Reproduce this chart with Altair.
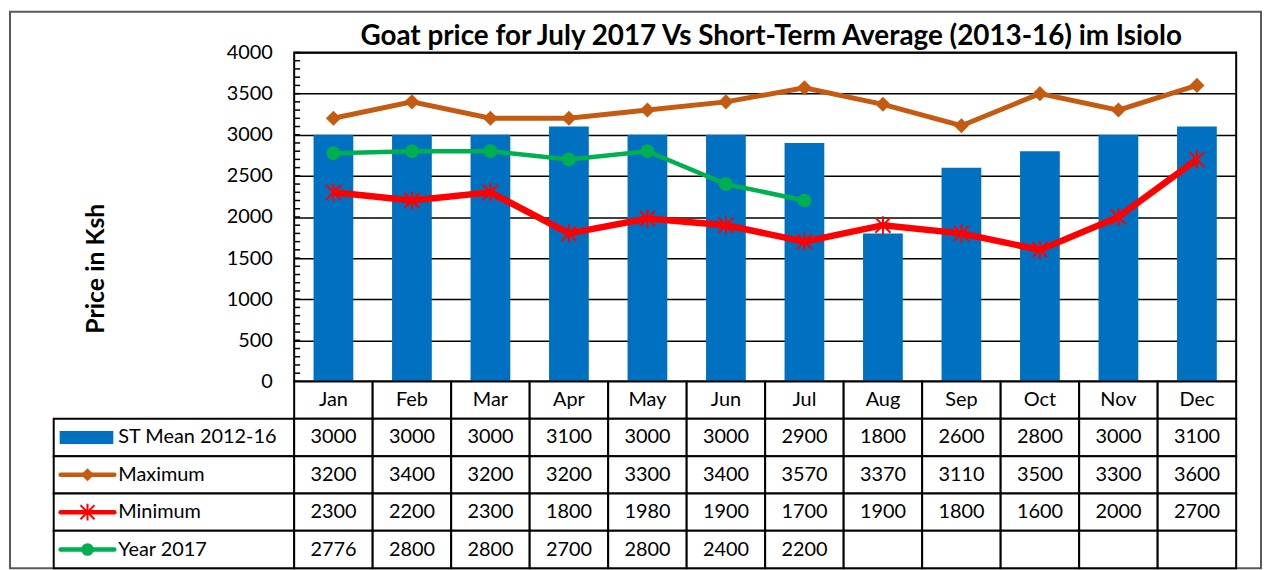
import altair as alt
import pandas as pd

# ---------------- data ----------------
months = ["Jan", "Feb", "Mar", "Apr", "May", "Jun", "Jul", "Aug", "Sep", "Oct", "Nov", "Dec"]
st_mean = [3000, 3000, 3000, 3100, 3000, 3000, 2900, 1800, 2600, 2800, 3000, 3100]
maximum = [3200, 3400, 3200, 3200, 3300, 3400, 3570, 3370, 3110, 3500, 3300, 3600]
minimum = [2300, 2200, 2300, 1800, 1980, 1900, 1700, 1900, 1800, 1600, 2000, 2700]
year_2017 = [2776, 2800, 2800, 2700, 2800, 2400, 2200]

series_names = ["ST Mean 2012-16", "Maximum", "Minimum", "Year 2017"]
series_colors = ["#0070C0", "#C55A11", "#FF0000", "#00B050"]
y_ticks = [0, 500, 1000, 1500, 2000, 2500, 3000, 3500, 4000]
minor_ticks = list(range(0, 4001, 100))
title_text = "Goat price for July 2017 Vs Short-Term Average (2013-16) im Isiolo"
y_title = "Price in Ksh"

# ---------------- layout constants ----------------
FONT = "Lato"
W_PLOT, H_PLOT = 948, 331
W_LEG, H_TAB = 242, 188
STAR = "M-1,-1L1,1M-1,1L1,-1M0,-1.2L0,1.2"

rows_order = ["hdr"] + series_names

bar_df = pd.DataFrame({"month": months, "value": st_mean})
max_df = pd.DataFrame({"month": months, "value": maximum})
min_df = pd.DataFrame({"month": months, "value": minimum})
y17_df = pd.DataFrame({"month": months[:len(year_2017)], "value": year_2017})
minor_df = pd.DataFrame({"value": minor_ticks})

x_scale = alt.Scale(domain=months, paddingInner=0, paddingOuter=0)
y_scale = alt.Scale(domain=[0, 4000], nice=False)
xe = alt.X("month:N", sort=months, scale=x_scale, axis=None)
y_axis = alt.Axis(
    values=y_ticks, format="d", grid=True, gridColor="black", gridWidth=1.5,
    domain=False, ticks=False, tickSize=0,
    labelFontSize=20, labelPadding=22, labelColor="black", labelFont=FONT,
    title=y_title, titleFontSize=25, titleFontWeight="bold", titleColor="black",
    titleFont=FONT, titleX=-200, titleY=217, titleAlign="center", titleBaseline="middle")
ye = alt.Y("value:Q", scale=y_scale, axis=y_axis, title=y_title)

bars = alt.Chart(bar_df).mark_bar(color=series_colors[0], size=40).encode(x=xe, y=ye)
minor = alt.Chart(minor_df).mark_rule(color="black", strokeWidth=1.5).encode(
    x=alt.value(0), x2=alt.value(6), y=ye)

max_line = alt.Chart(max_df).mark_line(color=series_colors[1], strokeWidth=5).encode(x=xe, y=ye)
max_pts = alt.Chart(max_df).mark_point(shape="diamond", filled=True, size=230, opacity=1,
                                        color=series_colors[1]).encode(x=xe, y=ye)
min_line = alt.Chart(min_df).mark_line(color=series_colors[2], strokeWidth=6.5).encode(x=xe, y=ye)
min_pts = alt.Chart(min_df).mark_point(shape=STAR, filled=False, size=230, opacity=1, strokeWidth=2,
                                        color=series_colors[2]).encode(x=xe, y=ye)
y17_line = alt.Chart(y17_df).mark_line(color=series_colors[3], strokeWidth=4.5).encode(x=xe, y=ye)
y17_pts = alt.Chart(y17_df).mark_point(shape="circle", filled=True, size=190, opacity=1,
                                        color=series_colors[3]).encode(x=xe, y=ye)

top = alt.layer(bars, minor, max_line, max_pts, min_line, min_pts, y17_line, y17_pts).properties(
    width=W_PLOT, height=H_PLOT,
    title=alt.Title(title_text, fontSize=28, fontWeight="bold", font=FONT, anchor="middle",
                    offset=3, dy=11, dx=6, color="black"),
    view=alt.ViewBackground(stroke="black", strokeWidth=2),
)

# spacer with outer frame
spacer = alt.Chart(pd.DataFrame({"v": [0]})).mark_rect(
    fill="white", fillOpacity=0, stroke="#595959", strokeWidth=2).encode(
    x=alt.value(-44), x2=alt.value(1215), y=alt.value(-41), y2=alt.value(519)
).properties(width=W_LEG, height=H_PLOT)

# ---------------- data table ----------------
cell_rows, cell_months, cell_text = [], [], []
for m in months:
    cell_rows.append("hdr"); cell_months.append(m); cell_text.append(m)
series_vals = [st_mean, maximum, minimum, year_2017]
for name, vals in zip(series_names, series_vals):
    for i, m in enumerate(months):
        cell_rows.append(name); cell_months.append(m)
        cell_text.append(str(vals[i]) if i < len(vals) else "")
cells = pd.DataFrame({"row": cell_rows, "month": cell_months, "text": cell_text})

row_scale = alt.Scale(domain=rows_order, paddingInner=0, paddingOuter=0)
tx = alt.X("month:N", scale=x_scale, axis=None)
ty = alt.Y("row:N", scale=row_scale, axis=None)

table = alt.layer(
    alt.Chart(cells).mark_rect(fill="white", stroke="black", strokeWidth=2).encode(x=tx, y=ty),
    alt.Chart(cells).mark_text(fontSize=20, color="black", font=FONT).encode(x=tx, y=ty, text="text:N"),
).properties(width=W_PLOT, height=H_TAB)

leg_df = pd.DataFrame({"row": series_names, "color": series_colors})
ly = alt.Y("row:N", scale=row_scale, axis=None)
cscale = alt.Color("row:N", scale=alt.Scale(domain=series_names, range=series_colors), legend=None)

leg_cells = alt.Chart(leg_df).mark_rect(fill="white", stroke="black", strokeWidth=2).encode(y=ly)
leg_bar = alt.Chart(leg_df).transform_filter(alt.datum.row == series_names[0]).mark_rule(
    strokeWidth=13, strokeCap="butt").encode(x=alt.value(6), x2=alt.value(60), y=ly, color=cscale)
leg_lines = alt.Chart(leg_df).transform_filter(alt.datum.row != series_names[0]).mark_rule(
    strokeWidth=4.5, strokeCap="round").encode(x=alt.value(7), x2=alt.value(61), y=ly, color=cscale)
leg_max = alt.Chart(leg_df).transform_filter(alt.datum.row == "Maximum").mark_point(
    shape="diamond", filled=True, size=170, opacity=1).encode(x=alt.value(34), y=ly, color=cscale)
leg_min = alt.Chart(leg_df).transform_filter(alt.datum.row == "Minimum").mark_point(
    shape=STAR, filled=False, size=200, opacity=1, strokeWidth=2).encode(x=alt.value(34), y=ly, color=cscale)
leg_y17 = alt.Chart(leg_df).transform_filter(alt.datum.row == "Year 2017").mark_point(
    shape="circle", filled=True, size=160, opacity=1).encode(x=alt.value(34), y=ly, color=cscale)
leg_text = alt.Chart(leg_df).mark_text(align="left", fontSize=20, color="black", font=FONT).encode(
    x=alt.value(65), y=ly, text="row:N")

legcol = alt.layer(leg_cells, leg_bar, leg_lines, leg_max, leg_min, leg_y17, leg_text).properties(
    width=W_LEG, height=H_TAB)

chart = alt.concat(spacer, top, legcol, table, columns=2, spacing=0, bounds="flush",
                   align="each").properties(
    padding=0, background="white"
).configure(font=FONT).configure_view(stroke="transparent")

chart.save("out.html", embed_options={"renderer": "svg", "actions": False})
